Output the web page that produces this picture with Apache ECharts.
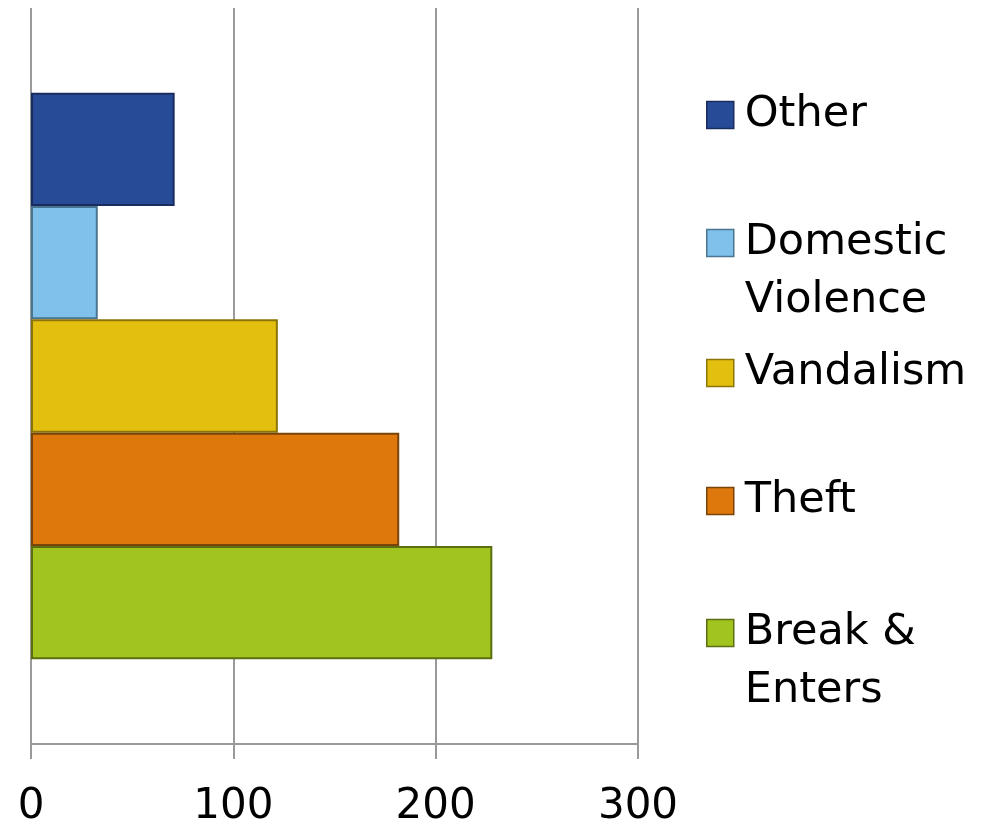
<!DOCTYPE html>
<html><head><meta charset="utf-8">
<script src="https://cdn.jsdelivr.net/npm/echarts@6/dist/echarts.min.js"></script>
<style>html,body{margin:0;padding:0;background:#fff}#c{width:1004px;height:828px}</style>
</head><body><div id="c"></div>
<script>
const categories = ['Crimes'];
const seriesNames = ['Other', 'Domestic\nViolence', 'Vandalism', 'Theft', 'Break &\nEnters'];
const seriesValues = [71, 33, 122, 182, 228];
const seriesColors = ['#284b98', '#7fc1ea', '#e3bf10', '#de780c', '#a2c41f'];
const borderColors = ['#182c5e', '#4a7590', '#8c7508', '#7a4309', '#5b6e12'];
const xTicks = [0, 100, 200, 300];

const legendCenters = [115, 243, 373, 501, 633];
const font = 'DejaVu Sans';

const series = seriesNames.map((n, i) => ({
  name: n, type: 'bar', data: [seriesValues[i]],
  barGap: '0%', barCategoryGap: '23%',
  itemStyle: { color: seriesColors[i], borderColor: borderColors[i], borderWidth: 2 },
  animation: false
}));

const legends = seriesNames.map((n, i) => {
  const twoLine = n.indexOf('\n') >= 0;
  return {
    orient: 'vertical', left: 706, padding: 0,
    top: legendCenters[i] - (twoLine ? 87 : 29),
    itemWidth: 27, itemHeight: 27, icon: 'rect',
    data: [{ name: n, itemStyle: { borderColor: borderColors[i], borderWidth: 1.5 } }],
    selectedMode: false,
    formatter: name => (name.indexOf('\n') >= 0 ? ' \n' + name : name),
    textStyle: { fontFamily: font, fontSize: 43, color: '#000', lineHeight: 58,
      padding: [0, 0, 0, 6] }
  };
});

const chart = echarts.init(document.getElementById('c'), null, { renderer: 'canvas' });
chart.setOption({
  animation: false,
  grid: { left: 31, right: 366, top: 8, bottom: 84, containLabel: false },
  legend: legends,
  xAxis: {
    type: 'value', min: xTicks[0], max: xTicks[xTicks.length - 1], interval: 100,
    axisLine: { show: true, lineStyle: { color: '#9a9a9a', width: 2 } },
    axisTick: { show: true, length: 15, lineStyle: { color: '#9a9a9a', width: 2 } },
    splitLine: { show: true, lineStyle: { color: '#9a9a9a', width: 2 } },
    axisLabel: { fontFamily: font, fontSize: 42, color: '#000', margin: 42,
      formatter: v => xTicks.includes(v) ? String(v) : '' }
  },
  yAxis: {
    type: 'category', data: categories,
    axisLine: { show: false }, axisTick: { show: false }, axisLabel: { show: false },
    splitLine: { show: false }
  },
  series: series
});
</script></body></html>
